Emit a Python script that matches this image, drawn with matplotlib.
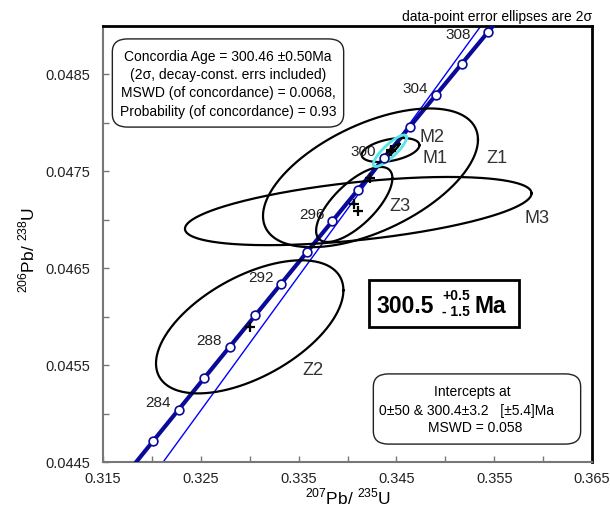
import numpy as np
import matplotlib
matplotlib.use("Agg")
import matplotlib.pyplot as plt
from matplotlib.patches import FancyBboxPatch, Rectangle

plt.rcParams['font.family'] = ['Liberation Sans', 'DejaVu Sans']
plt.rcParams['mathtext.fontset'] = 'custom'
plt.rcParams['mathtext.rm'] = 'Liberation Sans'

# ---------------- data ----------------
LAMBDA_238 = 1.55125e-10
LAMBDA_235 = 9.8485e-10

concordia_ticks_ma = [282, 284, 286, 288, 290, 292, 294, 296, 298, 300, 302, 304, 306, 308]
concordia_labels_ma = [284, 288, 292, 296, 300, 304, 308]

ellipse_names = ["Z1", "M3", "Z3", "Z2", "M1", "M2"]
ellipse_x = [0.34235, 0.34110, 0.34069, 0.33000, 0.34440, 0.34445]      # 207Pb/235U
ellipse_y = [0.047433, 0.047090, 0.047158, 0.045895, 0.047720, 0.047705]  # 206Pb/238U
ellipse_sx = [0.01099, 0.01772, 0.00390, 0.00958, 0.00295, 0.00087]     # 2 sigma
ellipse_sy = [0.000716, 0.000352, 0.000387, 0.000687, 0.000124, 0.0000825]
ellipse_rho = [0.55, 0.52, 0.70, 0.55, 0.40, 0.95]

ellipse_label_x = [0.35529, 0.35935, 0.34537, 0.33647, 0.34890, 0.34869]
ellipse_label_y = [0.047637, 0.047012, 0.047142, 0.045448, 0.047631, 0.047854]

concordia_age = 300.46
conc_age_sx = 0.001708
conc_age_sy = 0.000163
conc_age_rho = 0.85

lower_intercept = 0.0
upper_intercept = 300.4

xticks = [0.315, 0.325, 0.335, 0.345, 0.355, 0.365]
yticks = [0.0445, 0.0455, 0.0465, 0.0475, 0.0485]

box1_lines = ["Concordia Age = 300.46 \u00b10.50Ma",
              "(2\u03c3, decay-const. errs included)",
              "MSWD (of concordance) = 0.0068,",
              "Probability (of concordance) = 0.93"]
box2_lines = ["Intercepts at",
              "0\u00b150 & 300.4\u00b13.2   [\u00b15.4]Ma",
              "MSWD = 0.058"]


def ratios(t_ma):
    t = np.asarray(t_ma) * 1e6
    return np.exp(LAMBDA_235 * t) - 1, np.exp(LAMBDA_238 * t) - 1


def ellipse_pts(cx, cy, sx, sy, rho, n=300):
    th = np.linspace(0, 2 * np.pi, n)
    x = cx + sx * np.cos(th)
    y = cy + sy * (rho * np.cos(th) + np.sqrt(1 - rho ** 2) * np.sin(th))
    return x, y


W, H = 610, 515
fig = plt.figure(figsize=(W / 100, H / 100), dpi=100)


def fx(px):
    return px / W


def fy(py):
    return 1 - py / H


ax = fig.add_axes([fx(103), fy(462), fx(592) - fx(103), fy(26) - fy(462)])
ax.set_xlim(0.315, 0.365)
ax.set_ylim(0.0445, 0.0490)

# discordia line through intercepts
x0, y0 = ratios(lower_intercept)
x1, y1 = ratios(upper_intercept)
xs = np.array([0.30, 0.37])
slope = (y1 - y0) / (x1 - x0)
ax.plot(xs, y0 + slope * (xs - x0), color='#0000ff', lw=1.0, zorder=2)

# concordia curve
tt = np.linspace(270, 320, 300)
cx_, cy_ = ratios(tt)
ax.plot(cx_, cy_, color='#0a0a9a', lw=3.0, zorder=3, solid_capstyle='butt')

# data ellipses
for i in range(len(ellipse_names)):
    ex, ey = ellipse_pts(ellipse_x[i], ellipse_y[i], ellipse_sx[i], ellipse_sy[i], ellipse_rho[i])
    ax.plot(ex, ey, color='black', lw=1.6, zorder=4)
    ax.plot(ellipse_x[i], ellipse_y[i], marker='+', color='black', ms=7, mew=1.6, zorder=4)
    ax.text(ellipse_label_x[i], ellipse_label_y[i], ellipse_names[i], fontsize=13,
            color='#333333', ha='center', va='center', zorder=6)

# concordia age ellipse
ax_, ay_ = ratios(concordia_age)
ex, ey = ellipse_pts(ax_, ay_, conc_age_sx, conc_age_sy, conc_age_rho)
ax.plot(ex, ey, color='#55e6e6', lw=2.0, zorder=5)

# concordia tick circles
tx, ty = ratios(concordia_ticks_ma)
ax.plot(tx, ty, 'o', ms=6.3, mfc='white', mec='#0a0a9a', mew=1.2, zorder=6, clip_on=False)
for t in concordia_labels_ma:
    px_, py_ = ratios(t)
    off = (-12, -2) if t == 308 else (-5.5, 4.5)
    ax.annotate(str(t), (px_, py_), xytext=off, textcoords='offset points',
                ha='right', va='center', fontsize=11, color='#222222', zorder=7)

# axes styling
ax.set_xticks(xticks)
ax.set_yticks(yticks)
ax.set_xticks(np.arange(0.320, 0.365, 0.010), minor=True)
ax.set_yticks(np.arange(0.0450, 0.0490, 0.0010), minor=True)
ax.set_xticklabels([f"{v:.3f}" for v in xticks])
ax.set_yticklabels([f"{v:.4f}" for v in yticks])
ax.tick_params(which='both', direction='in', length=4, width=1, color='#777777',
               labelsize=10.5, labelcolor='#222222')
ax.tick_params(axis='x', pad=7)
ax.tick_params(axis='y', pad=9)
for s in ['left', 'bottom']:
    ax.spines[s].set_color('#777777')
    ax.spines[s].set_linewidth(1.5)
for s in ['top', 'right']:
    ax.spines[s].set_color('black')
    ax.spines[s].set_linewidth(2.0)

fig.text(fx(348), fy(497), r'$^{207}$Pb/ $^{235}$U', fontsize=12.5, ha='center', va='center')
fig.text(fx(27), fy(250), r'$^{206}$Pb/ $^{238}$U', fontsize=12.5, ha='center', va='center', rotation=90)

fig.text(fx(497), fy(17), "data-point error ellipses are 2\u03c3", fontsize=10, ha='center', va='center')

# top-left box
b1 = FancyBboxPatch((fx(116), fy(124)), fx(344) - fx(116) - 4 / W, fy(42) - fy(124),
                    boxstyle="round,pad=0.006,rounding_size=0.025", transform=fig.transFigure,
                    fc='white', ec='#222222', lw=1.0, zorder=8)
fig.add_artist(b1)
for i, line in enumerate(box1_lines):
    fig.text(fx(228), fy(56.7 + i * 18.4), line, fontsize=10, ha='center', va='center', zorder=9)

# bottom-right box
b2 = FancyBboxPatch((fx(377), fy(441)), fx(577) - fx(377), fy(377) - fy(441),
                    boxstyle="round,pad=0.006,rounding_size=0.025", transform=fig.transFigure,
                    fc='white', ec='#222222', lw=1.0, zorder=8)
fig.add_artist(b2)
for yy, xx, line in zip([391.7, 411.5, 428.5], [472, 466, 475], box2_lines):
    fig.text(fx(xx), fy(yy), line, fontsize=10, ha='center', va='center', zorder=9)

# age box
r = Rectangle((fx(369), fy(327)), fx(519) - fx(369), fy(280) - fy(327), transform=fig.transFigure,
              fc='white', ec='black', lw=2.0, zorder=8)
fig.add_artist(r)
fig.text(fx(405), fy(306.5), "300.5", fontsize=16.5, fontweight='bold', ha='center', va='center', zorder=9)
fig.text(fx(456), fy(295.5), "+0.5", fontsize=10, fontweight='bold', ha='center', va='center', zorder=9)
fig.text(fx(456), fy(311.5), "- 1.5", fontsize=10, fontweight='bold', ha='center', va='center', zorder=9)
fig.text(fx(490), fy(306.5), "Ma", fontsize=16.5, fontweight='bold', ha='center', va='center', zorder=9)

fig.savefig("out.png", dpi=100)
